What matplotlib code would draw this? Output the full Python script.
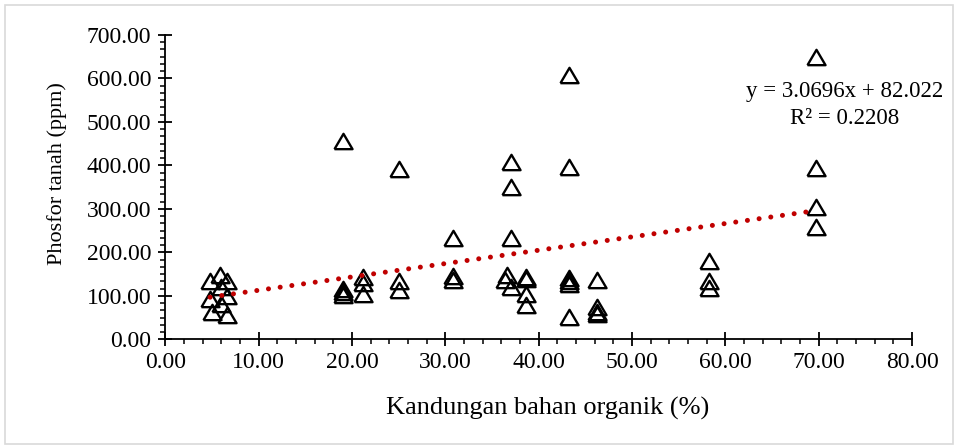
import numpy as np
import matplotlib
matplotlib.use('Agg')
import matplotlib.pyplot as plt
from matplotlib.ticker import MultipleLocator, AutoMinorLocator, FormatStrFormatter
from matplotlib.patches import Rectangle

plt.rcParams['font.family'] = 'Liberation Serif'

# kandungan bahan organik (%) dan phosfor tanah (ppm)
bahan_organik = [4.8, 4.8, 5.0, 5.9, 6.0, 6.0, 6.6, 6.6, 6.6,
                 19.0, 19.0, 19.0, 19.0,
                 21.2, 21.2, 21.2,
                 25.0, 25.0, 25.0,
                 30.8, 30.8, 30.8,
                 37.0, 37.0, 37.0, 36.6, 36.4, 37.0,
                 38.6, 38.6, 38.6, 38.6,
                 43.3, 43.3, 43.3, 43.3, 43.3, 43.3,
                 46.3, 46.3, 46.3, 46.3,
                 58.3, 58.3, 58.3,
                 69.7, 69.7, 69.7, 69.7]
phosfor = [135, 92, 63, 148, 120, 82, 135, 100, 56,
           455, 115, 108, 102,
           143, 130, 105,
           392, 133, 113,
           232, 145, 137,
           408, 351, 233, 147, 136, 121,
           143, 138, 105, 78,
           609, 397, 140, 133, 127, 51,
           136, 74, 63, 59,
           180, 134, 119,
           650, 393, 305, 259]

# koefisien garis tren linear (Excel)
slope = 3.0696
intercept = 82.022
label_persamaan = 'y = 3.0696x + 82.022'
label_r2 = 'R² = 0.2208'

fig = plt.figure(figsize=(9.58, 4.48), dpi=100)
fig.patches.append(Rectangle((0.005, 0.008), 0.99, 0.98, transform=fig.transFigure,
                             fill=False, edgecolor='#d9d9d9', linewidth=1.2))
ax = fig.add_axes([0.1725, 0.2427, 0.7795, 0.6793])

tri = [(-1, -0.85), (1, -0.85), (0, 0.85), (-1, -0.85)]
ax.plot(bahan_organik, phosfor, linestyle='none', marker=tri, markersize=13,
        markerfacecolor='none', markeredgecolor='black', markeredgewidth=1.7)

xt = np.array([min(bahan_organik), max(bahan_organik)])
ax.plot(xt, slope * xt + intercept, color='#C00000', linewidth=3.6,
        linestyle=(0, (0.01, 2.35)), dash_capstyle='round')

ax.set_xlim(0, 80)
ax.set_ylim(0, 700)
ax.xaxis.set_major_locator(MultipleLocator(10))
ax.xaxis.set_minor_locator(AutoMinorLocator(5))
ax.yaxis.set_major_locator(MultipleLocator(100))
ax.yaxis.set_minor_locator(AutoMinorLocator(6))
ax.xaxis.set_major_formatter(FormatStrFormatter('%.2f'))
ax.yaxis.set_major_formatter(FormatStrFormatter('%.2f'))

for s in ['top', 'right']:
    ax.spines[s].set_visible(False)
for s in ['left', 'bottom']:
    ax.spines[s].set_linewidth(1.3)

ax.tick_params(which='major', direction='inout', length=10, width=1.3, labelsize=17, pad=4)
ax.tick_params(which='minor', direction='out', length=3.5, width=1.1)
ax.tick_params(axis='y', which='major', pad=5)

ax.set_xlabel('Kandungan bahan organik (%)', fontsize=19)
ax.set_ylabel('Phosfor tanah (ppm)', fontsize=16)
ax.xaxis.set_label_coords(0.512, -0.19)
ax.yaxis.set_label_coords(-0.132, 0.545)

fig.text(845 / 958, 1 - 92 / 448, label_persamaan, ha='center', va='center', fontsize=16.5)
fig.text(845 / 958, 1 - 118 / 448, label_r2, ha='center', va='center', fontsize=16.5)

fig.savefig('out.png', dpi=100)
